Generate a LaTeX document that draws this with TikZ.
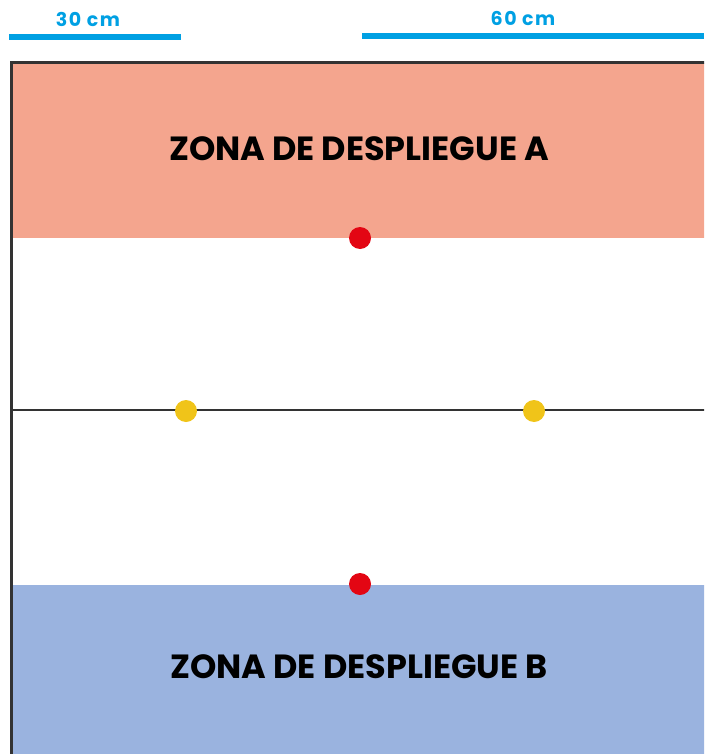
\documentclass[tikz,border=0pt]{standalone}
\usepackage{fontspec}
\setmainfont{Poppins}
\newfontfamily\scalefont[LetterSpace=8]{Poppins}
\definecolor{zonaA}{HTML}{F4A58E}
\definecolor{zonaB}{HTML}{9AB3DF}
\definecolor{escala}{HTML}{00A0E3}
\definecolor{borde}{HTML}{333333}
\definecolor{rojo}{HTML}{E30613}
\definecolor{amarillo}{HTML}{F0C419}
\begin{document}
\begin{tikzpicture}[x=1pt,y=-1pt,
zona/.style={font=\fontsize{33.5}{33.5}\selectfont\bfseries, text=black},
medida/.style={font=\scalefont\fontsize{19}{19}\selectfont\bfseries, text=escala},
barra/.style={draw=escala, line width=6pt},
punto/.style={circle, inner sep=0pt, minimum size=22pt},
objetivo/.style={punto, fill=rojo},
marcador/.style={punto, fill=amarillo}
]
\useasboundingbox (0,0) rectangle (704,754);
\clip (0,0) rectangle (704,754);
% escalas
\draw[barra] (9,37) -- (181,37);
\draw[barra] (362,36) -- (704,36);
\node[medida] (m30) at (88,19) {30 cm};
\node[medida] (m60) at (523,19) {60 cm};
% tablero
\fill[zonaA] (11,63) rectangle (710,238);
\fill[zonaB] (11,585) rectangle (710,760);
\draw[borde, line width=3pt] (11,760) -- (11,63) -- (710,63);
\draw[borde, line width=2.5pt] (11,410) -- (710,410);
\node[zona] (zonaA) at (359,149) {ZONA DE DESPLIEGUE A};
\node[zona] (zonaB) at (359,667) {ZONA DE DESPLIEGUE B};
% puntos
\node[objetivo] (objA) at (360,238) {};
\node[objetivo] (objB) at (360,584) {};
\node[marcador] (izq) at (186,411) {};
\node[marcador] (der) at (534,411) {};
\end{tikzpicture}
\end{document}
